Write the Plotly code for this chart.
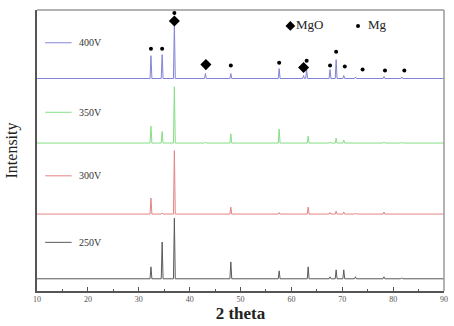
import plotly.graph_objects as go

# ---- data (2theta in degrees, intensity in arbitrary units) ----
series_names = ["400V", "350V", "300V", "250V"]
series_colors = ["#8383d6", "#86de86", "#e48484", "#5a5a5a"]
series_offsets = [214, 149, 77.5, 12.3]

peaks_400 = [32.4, 34.6, 37.0, 43.1, 48.1, 57.6, 62.4, 63.0, 67.6, 68.8, 70.3, 72.6, 78.2, 81.7]
heights_400 = [23, 24, 55, 5, 5, 10, 3, 9, 9, 19, 3, 1.5, 2, 1.5]

peaks_350 = [32.4, 34.6, 37.0, 43.1, 48.1, 57.6, 63.3, 67.6, 68.8, 70.3, 78.2, 81.7]
heights_350 = [17, 11.6, 56.6, 1, 9.3, 14, 7, 1, 5, 3, 1, 0.8]

peaks_300 = [32.4, 34.6, 37.0, 48.1, 57.6, 63.3, 67.6, 68.8, 70.3, 72.6, 78.2]
heights_300 = [16, 1, 64, 7, 1.5, 7, 1.5, 3, 2, 1, 2]

peaks_250 = [32.4, 34.6, 37.0, 48.1, 57.6, 63.3, 67.6, 68.8, 70.3, 72.6, 78.2, 81.7]
heights_250 = [12, 37, 61, 17, 8, 12, 2, 9, 9, 2, 2, 1]

mg_x = [32.4, 34.6, 37.0, 48.1, 57.6, 63.0, 67.6, 68.8, 70.5, 74.0, 78.4, 82.2]
mg_y = [244, 244, 280, 227, 230, 232, 227, 241, 226, 223, 222, 222]
mgo_x = [37.0, 43.2, 62.4]
mgo_y = [272, 228, 225]

x_ticks = [10, 20, 30, 40, 50, 60, 70, 80, 90]

FONT = "Liberation Serif, Times New Roman, serif"

def pattern(peaks, heights, base, w=0.18):
    xs, ys = [10.0], [base]
    for p, h in sorted(zip(peaks, heights)):
        xs += [p - w, p, p + w]
        ys += [base, base + h, base]
    xs.append(90.0)
    ys.append(base)
    return xs, ys

all_peaks = [peaks_400, peaks_350, peaks_300, peaks_250]
all_heights = [heights_400, heights_350, heights_300, heights_250]

fig = go.Figure()
for name, col, off, pk, ht in zip(series_names, series_colors, series_offsets, all_peaks, all_heights):
    xs, ys = pattern(pk, ht, off)
    fig.add_trace(go.Scatter(x=xs, y=ys, mode="lines", line=dict(color=col, width=1),
                             name=name, showlegend=False, hoverinfo="skip"))

fig.add_trace(go.Scatter(x=mg_x, y=mg_y, mode="markers",
                         marker=dict(symbol="circle", size=4, color="black"), showlegend=False))
fig.add_trace(go.Scatter(x=mgo_x, y=mgo_y, mode="markers",
                         marker=dict(symbol="diamond", size=8.5, color="black"), showlegend=False))

# phase key at the top right
fig.add_trace(go.Scatter(x=[59.8], y=[267], mode="markers+text", text=["MgO"],
                         textposition="middle right",
                         textfont=dict(family=FONT, size=13, color="#222"),
                         marker=dict(symbol="diamond", size=7.5, color="black"), showlegend=False))
fig.add_trace(go.Scatter(x=[73.1], y=[267], mode="markers+text", text=["  Mg"],
                         textposition="middle right",
                         textfont=dict(family=FONT, size=13, color="#222"),
                         marker=dict(symbol="circle", size=4, color="black"), showlegend=False))

# series labels with short line samples
label_y = [250, 180, 116, 49]
shapes = []
annotations = []
for name, col, ly in zip(series_names, series_colors, label_y):
    shapes.append(dict(type="line", xref="x", yref="y", x0=11.6, x1=16.8, y0=ly, y1=ly,
                       line=dict(color=col, width=1)))
    annotations.append(dict(x=17.8, y=ly, xref="x", yref="y", text=name, showarrow=False,
                            xanchor="left", yanchor="middle",
                            font=dict(family=FONT, size=10, color="#333")))

# frame top/right
shapes.append(dict(type="line", xref="paper", yref="paper", x0=0, x1=1, y0=1, y1=1,
                   line=dict(color="#9a9a9a", width=1.5)))
shapes.append(dict(type="line", xref="paper", yref="paper", x0=1, x1=1, y0=0, y1=1,
                   line=dict(color="#9a9a9a", width=1.5)))

fig.update_layout(
    width=454, height=326,
    margin=dict(l=37, r=6, t=10, b=33),
    paper_bgcolor="white", plot_bgcolor="white",
    shapes=shapes, annotations=annotations,
    xaxis=dict(range=[10, 90], tickvals=x_ticks, ticks="inside", ticklen=4, tickcolor="#555",
               showline=True, linecolor="#555", linewidth=1.5, showgrid=False, zeroline=False,
               tickfont=dict(family=FONT, size=8, color="#555"),
               minor=dict(dtick=5, ticks="inside", ticklen=2, tickcolor="#555"),
               title=dict(text="<b>2 theta</b>", font=dict(family=FONT, size=17, color="#222"),
                          standoff=4)),
    yaxis=dict(range=[0, 283], showticklabels=False, ticks="", showline=True, linecolor="#555",
               linewidth=1.5, showgrid=False, zeroline=False,
               title=dict(text="Intensity", font=dict(family=FONT, size=16, color="#222"),
                          standoff=14)),
)

fig.write_html("out.html")
